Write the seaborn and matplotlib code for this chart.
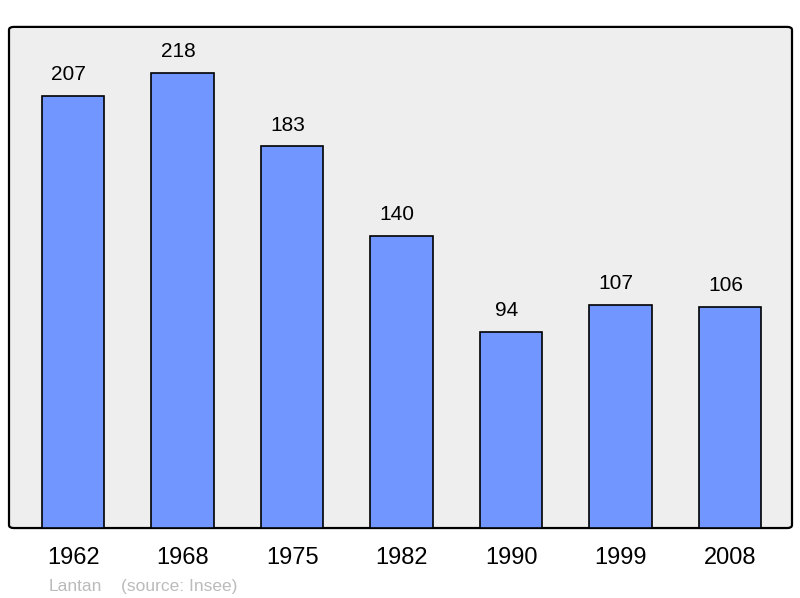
import matplotlib
matplotlib.use("Agg")
import matplotlib.pyplot as plt
import seaborn as sns
import pandas as pd
from matplotlib.patches import FancyBboxPatch

years = ["1962", "1968", "1975", "1982", "1990", "1999", "2008"]
population = [207, 218, 183, 140, 94, 107, 106]

sns.set_style("white")
plt.rcParams["font.family"] = ["Liberation Sans", "DejaVu Sans"]

df = pd.DataFrame({"year": years, "pop": population})

fig = plt.figure(figsize=(8, 5.98), dpi=100)
ax = fig.add_axes([0.01125, 0.117, 0.97875, 0.838])
ax.set_facecolor("none")

frame = FancyBboxPatch((0, 0), 1, 1, boxstyle="round,pad=0,rounding_size=0.006",
                       transform=ax.transAxes, facecolor="#eeeeee", edgecolor="black",
                       linewidth=1.6, zorder=0, clip_on=False)
ax.add_patch(frame)

sns.barplot(data=df, x="year", y="pop", color="#7196ff", saturation=1,
            width=0.57, edgecolor="black", linewidth=1.2, ax=ax, zorder=2)

for i, v in enumerate(population):
    ax.text(i - 0.04, v + 10, str(v), ha="center", va="center", fontsize=15, color="black")

ax.set_xlim(-0.585, 6.565)
ax.set_ylim(0, 240)
for s in ax.spines.values():
    s.set_visible(False)
ax.set_yticks([])
ax.tick_params(axis="x", length=0, labelsize=17, pad=14, labelcolor="black")
ax.set_xlabel("")
ax.set_ylabel("")

fig.text(0.061, 0.012, "Lantan", fontsize=12.5, color="#bbbbbb")
fig.text(0.151, 0.012, "(source: Insee)", fontsize=12.5, color="#bbbbbb")

fig.savefig("out.png", dpi=100)
